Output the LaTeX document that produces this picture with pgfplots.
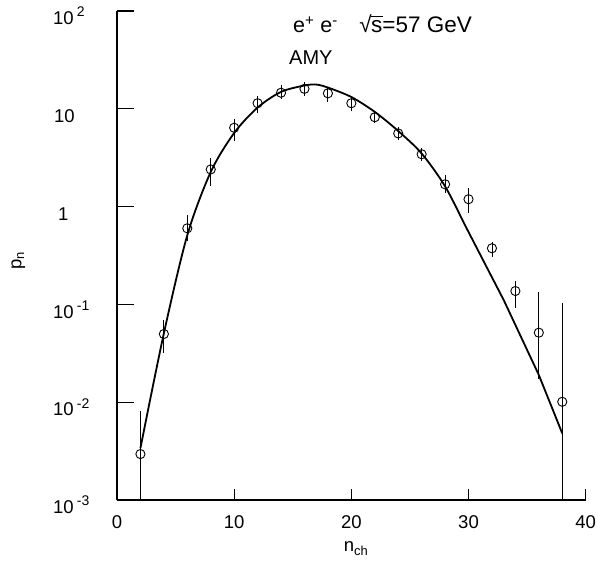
\documentclass[border=0pt]{standalone}
\usepackage{fontspec}
\setmainfont{Liberation Sans}
\usepackage{pgfplots}
\pgfplotsset{compat=1.18}

% ten to a power, as the old plotter wrote it
\newcommand{\tp}[1]{10\,\raisebox{0.42em}{\fontsize{14}{14}\selectfont #1}}

\begin{document}
\begin{tikzpicture}[x=1pt,y=1pt,font=\fontsize{18.5}{20}\selectfont]
  \path[use as bounding box] (-117,-71) rectangle (481,500);
  \begin{axis}[
      scale only axis,
      width=468.7pt, height=489pt,
      xmin=0, xmax=40,
      ymode=log, ymin=1e-3, ymax=1e2,
      axis lines=left,
      axis line style={-, line width=1.2pt},
      tick align=inside,
      major tick length=17pt,
      every tick/.style={black, line width=1.2pt},
      yminorticks=false,
      ytick={1e-3,1e-2,1e-1,1,10,100},
      yticklabels={\tp{-3},\tp{-2},\tp{-1},\hspace{5pt}1,\hspace{1pt}10,\tp{2}},
      yticklabel style={anchor=base west, inner sep=0pt, xshift=-64pt, yshift=-13.6pt},
      xtick=\empty,
      extra x ticks={0,10,20,30,40},
      extra x tick labels={0,10,20,30,40},
      extra x tick style={major tick length=11pt},
      xticklabel style={anchor=base, inner sep=0pt, yshift=-28pt},
    ]
    % fit curve
    \addplot[smooth, line width=1.8pt, black] coordinates {
      (2,0.0034) (4,0.0506) (6,0.51) (8,2.26) (10,5.66) (12,10.3)
      (14,14.9) (16,17.3) (17,17.7) (18,16.5) (20,13.2) (22,9.3)
      (24,5.93) (26,3.49) (28,1.61) (30,0.55) (33,0.111)
    };
    \addplot[line width=1.8pt, black] coordinates {
      (33,0.111) (36,0.019) (38,0.0048)
    };
    % AMY data
    \addplot[only marks, mark=o, mark size=4.6pt, black,
      mark options={line width=0.9pt},
      error bars/.cd, y dir=both, y explicit, error mark=none,
      error bar style={line width=0.9pt}]
      table[x=x, y=y, y error plus=ep, y error minus=em] {
        x   y       ep      em
        2   0.00295 0.0051  0.00285
        4   0.0498  0.020   0.018
        6   0.60    0.22    0.15
        8   2.40    0.76    0.77
        10  6.4     1.4     1.7
        12  11.4    2.1     2.4
        14  14.6    2.9     2.1
        16  16.0    2.6     2.6
        18  14.4    2.4     2.6
        20  11.4    1.7     1.8
        22  8.2     1.1     1.1
        24  5.6     0.9     0.8
        26  3.43    0.52    0.48
        28  1.69    0.41    0.32
        30  1.19    0.37    0.32
        32  0.375   0.063   0.072
        34  0.137   0.036   0.046
        36  0.0514  0.084   0.034
        38  0.0101  0.094   0.0100
      };
  \end{axis}
  \node[anchor=base west, inner sep=0pt, font=\fontsize{21.5}{22}\selectfont] at (176,467)
    {e\textsuperscript{+} e\textsuperscript{-}};
  \node[anchor=base east, inner sep=0pt, font=\fontsize{22.5}{24}\selectfont] at (355,467)
    {√\kern-0.5pt\rlap{\rule[0.73em]{0.55em}{0.9pt}}s=57 GeV};
  \node[anchor=base west, inner sep=0pt, font=\fontsize{20}{22}\selectfont] at (172,435) {AMY};
  \node[anchor=base] at (239,-52) {n\textsubscript{ch}};
  \node[rotate=90, anchor=base] at (-95.5,239) {p\textsubscript{n}};
\end{tikzpicture}
\end{document}
